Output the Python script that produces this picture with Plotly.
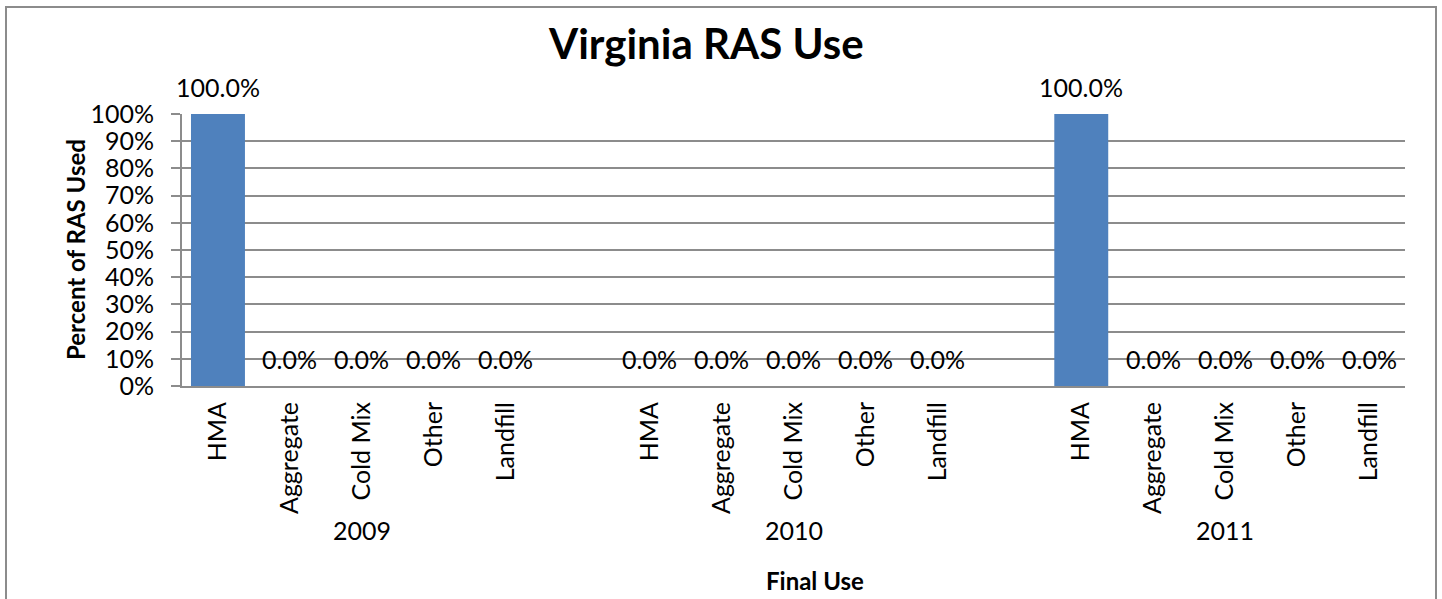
import plotly.graph_objects as go

years = ["2009", "2010", "2011"]
uses = ["HMA", "Aggregate", "Cold Mix", "Other", "Landfill"]
values = {
    "2009": [1.0, 0.0, 0.0, 0.0, 0.0],
    "2010": [0.0, 0.0, 0.0, 0.0, 0.0],
    "2011": [1.0, 0.0, 0.0, 0.0, 0.0],
}
y_ticks = [0, 0.1, 0.2, 0.3, 0.4, 0.5, 0.6, 0.7, 0.8, 0.9, 1.0]

FONT = "Lato"
GRID = "#8c8c8c"
BAR = "#4f81bd"

PL, PR, PT, PB = 182, 1405, 114, 386
PW, PH = PR - PL, PB - PT


def px_x(X):
    return (X - PL) / PW


def px_y(Y):
    return (PB - Y) / PH


cat_ids, tick_text, xs, ys = [], [], [], []
for gi, yr in enumerate(years):
    for u, v in zip(uses, values[yr]):
        cid = f"{yr}|{u}"
        cat_ids.append(cid)
        tick_text.append(u)
        xs.append(cid)
        ys.append(v)
    if gi < len(years) - 1:
        cat_ids.append(f"gap{gi}")
        tick_text.append("")

fig = go.Figure()
fig.add_trace(go.Bar(x=xs, y=ys, marker=dict(color=BAR, line=dict(width=0)),
                     width=0.75, showlegend=False, hoverinfo="x+y"))

annotations = []
for x, y in zip(xs, ys):
    annotations.append(dict(x=x, y=y, xref="x", yref="y", text=f"{y*100:.1f}%",
                            showarrow=False, yshift=27, xanchor="center",
                            font=dict(family=FONT, size=25, color="black")))
for yr in years:
    annotations.append(dict(x=f"{yr}|Cold Mix", y=px_y(530), xref="x", yref="paper",
                            xanchor="center", yanchor="middle", text=yr, showarrow=False,
                            font=dict(family=FONT, size=25, color="black")))
annotations.append(dict(x=px_x(815), y=px_y(580), xref="paper", yref="paper",
                        xanchor="center", yanchor="middle", text="<b>Final Use</b>",
                        showarrow=False, font=dict(family=FONT, size=24, color="black")))
annotations.append(dict(x=px_x(75), y=px_y(250), xref="paper", yref="paper",
                        xanchor="center", yanchor="middle",
                        text="<b>Percent of RAS Used</b>", textangle=-90, showarrow=False,
                        font=dict(family=FONT, size=24, color="black")))
annotations.append(dict(x=px_x(706), y=px_y(43), xref="paper", yref="paper",
                        xanchor="center", yanchor="middle", text="<b>Virginia RAS Use</b>",
                        showarrow=False, font=dict(family=FONT, size=42, color="black")))

fig.update_layout(
    width=1442, height=599,
    margin=dict(l=PL, r=1442 - PR, t=PT, b=599 - PB),
    paper_bgcolor="white", plot_bgcolor="white",
    font=dict(family=FONT, size=25, color="black"),
    annotations=annotations,
    shapes=[dict(type="rect", xref="paper", yref="paper",
                 x0=px_x(6), x1=px_x(1436), y0=px_y(610), y1=px_y(7),
                 line=dict(color=GRID, width=2), layer="below")],
)
fig.update_xaxes(type="category", categoryorder="array", categoryarray=cat_ids,
                 tickmode="array", tickvals=cat_ids, ticktext=tick_text,
                 tickangle=-90, ticks="", ticklabelstandoff=4, showgrid=False, showline=True,
                 linecolor=GRID, linewidth=2, tickfont=dict(family=FONT, size=25),
                 range=[-0.5, len(cat_ids) - 0.5], fixedrange=True)
fig.update_yaxes(range=[0, 1], tickmode="array", tickvals=y_ticks, tickformat=".0%",
                 showgrid=True, gridcolor=GRID, gridwidth=1.5, zeroline=False,
                 showline=True, linecolor=GRID, linewidth=2,
                 ticks="outside", ticklen=9, tickcolor=GRID, tickwidth=1.5,
                 ticklabelstandoff=12,
                 tickfont=dict(family=FONT, size=25), fixedrange=True)

fig.write_html("out.html", config={"displayModeBar": False},
               post_script="document.body.style.margin='0';document.body.style.overflow='hidden';")
